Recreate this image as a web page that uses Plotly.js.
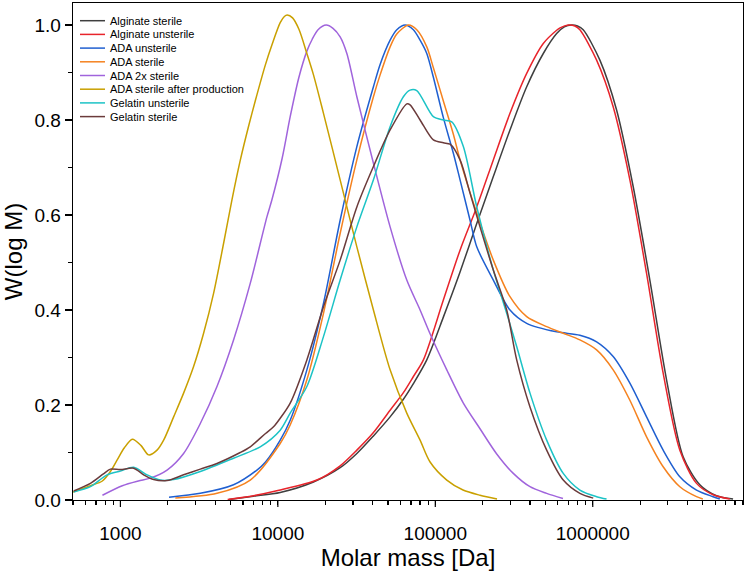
<!DOCTYPE html>
<html>
<head>
<meta charset="utf-8">
<script src="https://cdn.plot.ly/plotly-3.0.1.min.js"></script>
<style>
  html, body { margin: 0; padding: 0; background: #fff; }
  #chart { width: 746px; height: 575px; }
</style>
</head>
<body>
<div id="chart"></div>
<script>
// Molar mass [Da] and W(log M)

const algSterileM = [4900, 7000, 10350, 16840, 24870, 31750, 40460, 51640, 62710, 72570, 88280, 112500, 143600, 183300, 233600, 298100, 380600, 485100, 589800, 660000, 734300, 800000, 869800, 1110000, 1417000, 1806000, 2305000, 2943000, 3750000, 4786000, 6108000, 7785000];
const algSterileW = [0.001, 0.008, 0.016, 0.038, 0.068, 0.098, 0.135, 0.175, 0.212, 0.245, 0.295, 0.385, 0.48, 0.582, 0.681, 0.779, 0.87, 0.94, 0.982, 0.996, 1.0, 0.998, 0.99, 0.926, 0.821, 0.66, 0.463, 0.253, 0.091, 0.032, 0.009, 0.002];

const algUnsterileM = [4800, 7000, 10000, 17700, 24870, 31750, 40460, 51640, 62710, 72570, 84030, 112500, 143600, 183300, 233600, 298100, 380600, 485100, 589800, 620000, 698800, 770000, 828700, 1058000, 1348000, 1721000, 2197000, 2800000, 3574000, 4560000, 5813000, 7420000];
const algUnsterileW = [0.001, 0.009, 0.02, 0.042, 0.072, 0.105, 0.142, 0.189, 0.226, 0.26, 0.295, 0.421, 0.526, 0.617, 0.716, 0.814, 0.898, 0.961, 0.989, 0.994, 1.0, 0.998, 0.99, 0.926, 0.828, 0.674, 0.477, 0.267, 0.105, 0.035, 0.011, 0.002];

const adaUnsterileM = [2036, 3217, 5232, 7366, 8351, 10350, 11980, 15290, 19490, 24870, 31750, 40460, 44620, 51640, 56950, 64290, 72570, 80060, 88280, 97210, 112500, 130200, 143600, 166200, 183300, 233600, 298100, 380600, 589800, 828700, 1058000, 1348000, 1721000, 2197000, 2800000, 3574000, 4560000, 5813000, 6411000];
const adaUnsterileW = [0.006, 0.014, 0.032, 0.063, 0.08, 0.126, 0.168, 0.274, 0.414, 0.589, 0.744, 0.87, 0.917, 0.968, 0.99, 1.0, 0.99, 0.968, 0.94, 0.89, 0.805, 0.73, 0.674, 0.589, 0.533, 0.463, 0.40, 0.372, 0.354, 0.347, 0.333, 0.302, 0.246, 0.175, 0.105, 0.049, 0.021, 0.007, 0.002];

const adaSterileM = [2233, 4106, 6678, 10350, 11980, 15290, 19490, 24870, 31750, 40460, 44620, 51640, 56950, 67460, 76270, 88280, 97210, 112500, 130200, 143600, 183300, 233600, 298100, 380600, 509700, 649600, 828700, 1058000, 1348000, 1721000, 2197000, 2800000, 3574000, 4560000, 5000000];
const adaSterileW = [0.004, 0.014, 0.042, 0.119, 0.158, 0.253, 0.393, 0.561, 0.716, 0.849, 0.895, 0.954, 0.981, 1.0, 0.99, 0.954, 0.91, 0.84, 0.77, 0.716, 0.604, 0.505, 0.428, 0.386, 0.365, 0.351, 0.337, 0.316, 0.274, 0.21, 0.133, 0.07, 0.028, 0.007, 0.002];

const ada2xM = [769, 1028, 1300, 1549, 1978, 2520, 3217, 4106, 5232, 6678, 8522, 9169, 10660, 11980, 13610, 15290, 16530, 18000, 20280, 22400, 24870, 27430, 31750, 40460, 51640, 65900, 80060, 92640, 118300, 150700, 192300, 245500, 312900, 399400, 509700, 647000];
const ada2xW = [0.01, 0.03, 0.04, 0.046, 0.063, 0.098, 0.161, 0.239, 0.337, 0.456, 0.596, 0.632, 0.72, 0.807, 0.89, 0.945, 0.97, 0.99, 1.0, 0.993, 0.975, 0.94, 0.849, 0.709, 0.575, 0.463, 0.40, 0.35, 0.274, 0.204, 0.15, 0.097, 0.056, 0.028, 0.014, 0.003];

const adaAfterProdM = [500, 645, 768, 864, 952, 1060, 1191, 1350, 1511, 1709, 1882, 2178, 2520, 2917, 3376, 3907, 4521, 5111, 5770, 6554, 7185, 8313, 9211, 10350, 11000, 11470, 12400, 13610, 15290, 16840, 19490, 24870, 31750, 40460, 51640, 65900, 80060, 92640, 118300, 150000, 192300, 246600];
const adaAfterProdW = [0.017, 0.03, 0.04, 0.06, 0.084, 0.11, 0.128, 0.115, 0.095, 0.105, 0.126, 0.175, 0.225, 0.281, 0.351, 0.435, 0.54, 0.632, 0.715, 0.79, 0.84, 0.915, 0.96, 1.005, 1.018, 1.021, 1.015, 0.991, 0.94, 0.895, 0.814, 0.674, 0.533, 0.40, 0.274, 0.183, 0.126, 0.08, 0.042, 0.021, 0.01, 0.002];

const gelUnsterileM = [505, 645, 823, 1000, 1214, 1477, 1793, 2178, 3217, 5232, 7729, 10350, 11980, 15290, 19490, 24870, 31750, 40460, 51640, 62710, 69150, 76270, 97210, 112500, 127200, 150700, 183300, 233600, 284100, 328800, 399400, 509700, 649600, 828700, 1058000, 1224000];
const gelUnsterileW = [0.017, 0.028, 0.053, 0.061, 0.069, 0.053, 0.042, 0.043, 0.06, 0.088, 0.112, 0.147, 0.183, 0.239, 0.344, 0.463, 0.575, 0.674, 0.786, 0.849, 0.863, 0.862, 0.807, 0.80, 0.796, 0.744, 0.617, 0.484, 0.393, 0.323, 0.225, 0.126, 0.056, 0.021, 0.007, 0.002];

const gelSterileM = [505, 645, 780, 864, 1000, 1214, 1405, 1626, 1978, 2520, 3217, 4106, 5770, 6678, 8351, 9386, 10350, 11980, 15290, 19490, 24870, 31750, 40460, 51640, 65900, 69150, 80060, 97210, 112500, 124100, 143600, 166200, 192300, 233600, 284100, 328800, 399400, 509700, 649600, 828700, 1006800];
const gelSterileW = [0.019, 0.035, 0.055, 0.065, 0.064, 0.067, 0.053, 0.043, 0.041, 0.053, 0.065, 0.077, 0.1, 0.112, 0.14, 0.154, 0.172, 0.204, 0.295, 0.407, 0.505, 0.617, 0.702, 0.779, 0.834, 0.832, 0.80, 0.758, 0.752, 0.749, 0.716, 0.646, 0.575, 0.484, 0.40, 0.295, 0.196, 0.105, 0.042, 0.014, 0.004];

const seriesNames = ['Alginate sterile', 'Alginate unsterile', 'ADA unsterile', 'ADA sterile', 'ADA 2x sterile', 'ADA sterile after production', 'Gelatin unsterile', 'Gelatin sterile'];
const seriesColors = ['#3f3f3f', '#e8242b', '#1f5fd0', '#f5821f', '#a064dc', '#c9a000', '#1cc3c6', '#6b3b3b'];
const seriesM = [algSterileM, algUnsterileM, adaUnsterileM, adaSterileM, ada2xM, adaAfterProdM, gelUnsterileM, gelSterileM];
const seriesW = [algSterileW, algUnsterileW, adaUnsterileW, adaSterileW, ada2xW, adaAfterProdW, gelUnsterileW, gelSterileW];

const xTickVals = [1000, 10000, 100000, 1000000];
const xTickText = ['1000', '10000', '100000', '1000000'];
const yTickVals = [0, 0.2, 0.4, 0.6, 0.8, 1.0];
const yTickText = ['0.0', '0.2', '0.4', '0.6', '0.8', '1.0'];

const FONT = 'Arial, "Liberation Sans", sans-serif';
const X_RANGE = [Math.log10(500), Math.log10(9000000)];

// minor ticks at 2..9 of every decade inside the range
const xMinor = [];
for (let d = 100; d <= 1000000; d *= 10) {
    for (let k = 2; k <= 9; k++) {
        const v = k * d;
        if (v >= 500 && v <= 9000000) xMinor.push(v);
    }
}

const traces = seriesNames.map((name, i) => ({
    x: seriesM[i],
    y: seriesW[i],
    name: name,
    type: 'scatter',
    mode: 'lines',
    line: { color: seriesColors[i], width: 1.5, shape: 'spline', smoothing: 0.8 }
}));

// Compact legend drawn in paper coordinates (native legend rows are too tall)
const plotL = 73, plotT = 3, plotW = 670, plotH = 497;
const shapes = [];
const annots = [];
seriesNames.forEach((name, i) => {
    const yPx = 20.7 + i * 13.7;
    const yP = 1 - (yPx - plotT) / plotH;
    shapes.push({
        type: 'line', xref: 'paper', yref: 'paper',
        x0: (80 - plotL) / plotW, x1: (105 - plotL) / plotW, y0: yP, y1: yP,
        line: { color: seriesColors[i], width: 1.5 }
    });
    annots.push({
        xref: 'paper', yref: 'paper',
        x: (108 - plotL) / plotW, y: yP,
        xanchor: 'left', yanchor: 'middle',
        text: name, showarrow: false,
        font: { family: FONT, size: 11, color: '#000' }
    });
});

// longer marks at the labelled decades (axis ticks below are all short)
xTickVals.forEach(v => {
    shapes.push({
        type: 'line', xref: 'x', yref: 'paper',
        x0: v, x1: v, y0: 0, y1: -7 / plotH,
        line: { color: '#000', width: 1.2 }
    });
});

// all x ticks as one array; decade ticks get a label, the rest stay blank
const xAllTicks = xTickVals.concat(xMinor).sort((a, b) => a - b);
const xAllText = xAllTicks.map(v => {
    const k = xTickVals.indexOf(v);
    return k >= 0 ? xTickText[k] : '';
});

const layout = {
    width: 746,
    height: 575,
    margin: { l: plotL, r: 3, t: plotT, b: 75 },
    paper_bgcolor: '#fff',
    plot_bgcolor: '#fff',
    showlegend: false,
    font: { family: FONT, color: '#000' },
    xaxis: {
        type: 'log',
        range: X_RANGE,
        tickmode: 'array',
        tickvals: xAllTicks,
        ticktext: xAllText,
        ticks: 'outside',
        ticklen: 4,
        tickwidth: 1.2,
        tickcolor: '#000',
        ticklabelstandoff: 12,
        tickfont: { family: FONT, size: 19, color: '#000' },
        showline: true, linecolor: '#000', linewidth: 1.3, mirror: true,
        showgrid: false, zeroline: false,
        title: { text: 'Molar mass [Da]', font: { family: FONT, size: 24, color: '#000' }, standoff: 0 }
    },
    yaxis: {
        range: [0, 497 / 475],
        tickmode: 'array',
        tickvals: yTickVals,
        ticktext: yTickText,
        ticks: 'outside',
        ticklen: 7,
        tickwidth: 1.2,
        tickcolor: '#000',
        minor: { tickmode: 'linear', tick0: 0, dtick: 0.1, ticks: 'outside', ticklen: 4, tickwidth: 1.2, tickcolor: '#000' },
        tickfont: { family: FONT, size: 19, color: '#000' },
        showline: true, linecolor: '#000', linewidth: 1.3, mirror: true,
        showgrid: false, zeroline: false,
        title: { text: 'W(log M)', font: { family: FONT, size: 24, color: '#000' }, standoff: 8 }
    },
    shapes: shapes,
    annotations: annots
};

Plotly.newPlot('chart', traces, layout, { displayModeBar: false, staticPlot: true });
</script>
</body>
</html>
